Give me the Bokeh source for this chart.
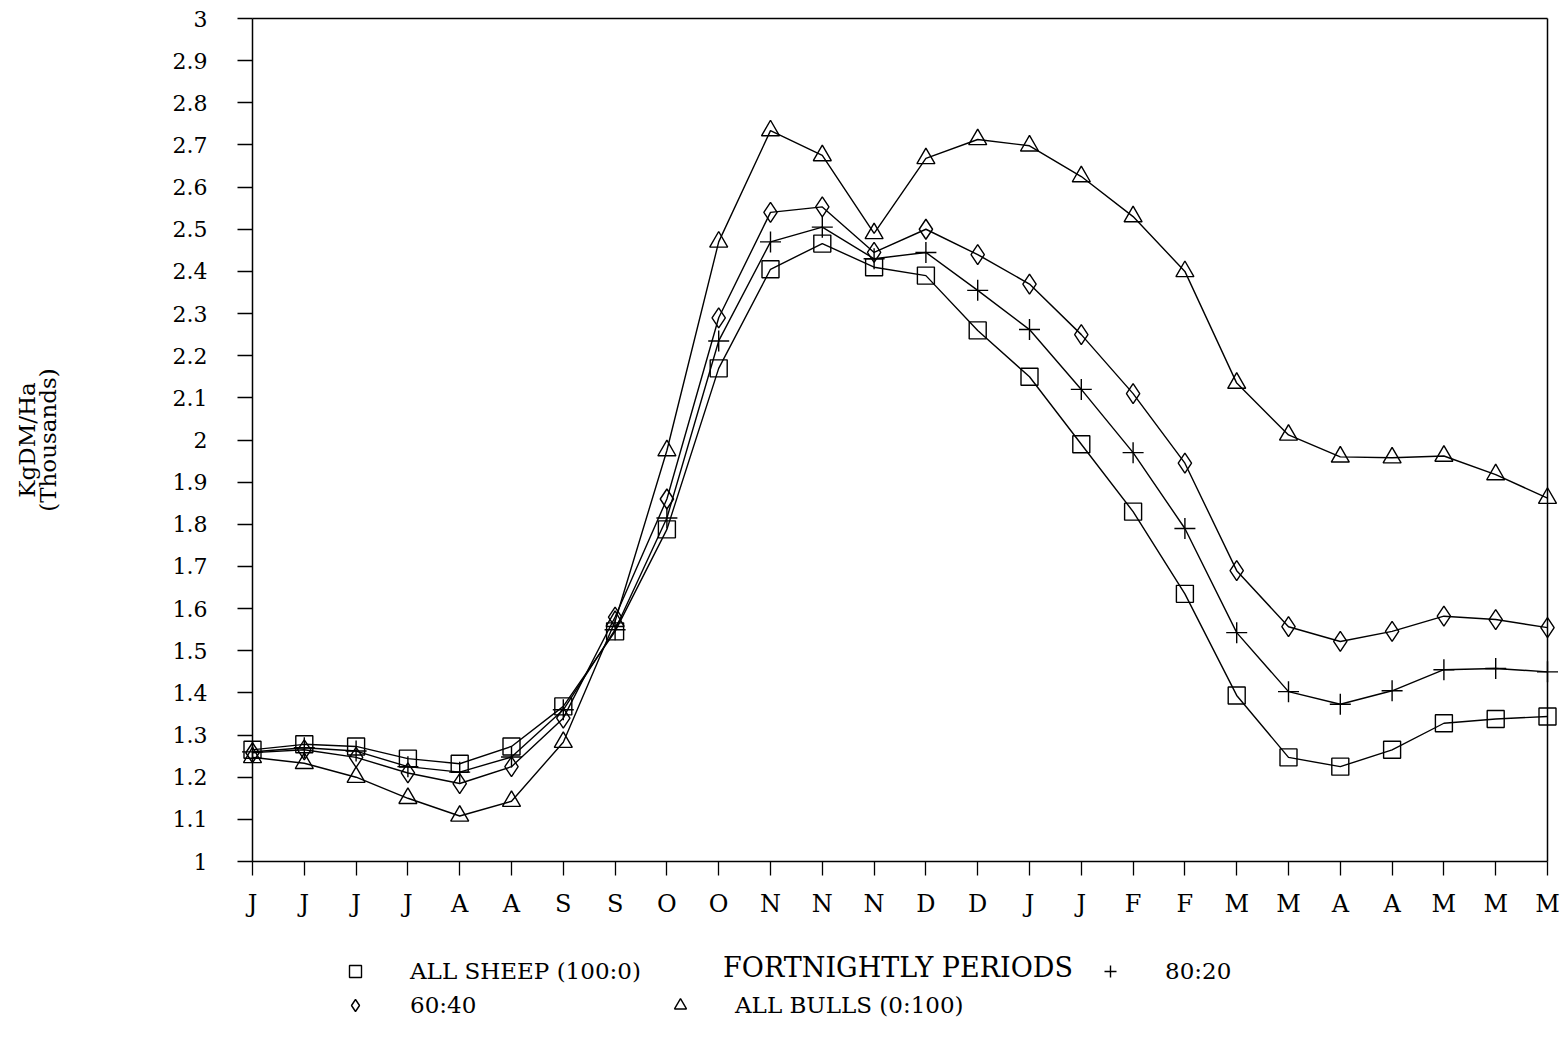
import math
from bokeh.plotting import figure
from bokeh.models import (Range1d, FixedTicker, LinearAxis, Legend, LegendItem, Label)
from bokeh.embed import file_html
from bokeh.resources import INLINE

periods = ["J", "J", "J", "J", "A", "A", "S", "S", "O", "O", "N", "N", "N",
           "D", "D", "J", "J", "F", "F", "M", "M", "A", "A", "M", "M", "M"]
idx = list(range(len(periods)))

all_sheep = [1.265, 1.278, 1.273, 1.244, 1.232, 1.273, 1.368, 1.546, 1.788, 2.17,
             2.405, 2.466, 2.41, 2.39, 2.26, 2.15, 1.99, 1.83, 1.635, 1.394,
             1.247, 1.225, 1.265, 1.328, 1.338, 1.344]
r80_20 = [1.26, 1.27, 1.262, 1.225, 1.212, 1.248, 1.36, 1.55, 1.815, 2.235,
          2.47, 2.505, 2.43, 2.445, 2.355, 2.262, 2.12, 1.97, 1.79, 1.543,
          1.403, 1.373, 1.405, 1.455, 1.458, 1.45]
r60_40 = [1.258, 1.265, 1.247, 1.21, 1.185, 1.225, 1.34, 1.58, 1.86, 2.29,
          2.54, 2.553, 2.445, 2.5, 2.44, 2.37, 2.25, 2.11, 1.945, 1.69,
          1.557, 1.522, 1.546, 1.582, 1.574, 1.555]
all_bulls = [1.247, 1.233, 1.2, 1.15, 1.108, 1.143, 1.283, 1.57, 1.975, 2.47,
             2.734, 2.675, 2.49, 2.668, 2.713, 2.698, 2.625, 2.53, 2.4, 2.135,
             2.012, 1.96, 1.958, 1.962, 1.918, 1.862]

y_ticks = [1.0, 1.1, 1.2, 1.3, 1.4, 1.5, 1.6, 1.7, 1.8, 1.9, 2.0,
           2.1, 2.2, 2.3, 2.4, 2.5, 2.6, 2.7, 2.8, 2.9, 3.0]
y_tick_labels = ["1", "1.1", "1.2", "1.3", "1.4", "1.5", "1.6", "1.7", "1.8", "1.9", "2",
                 "2.1", "2.2", "2.3", "2.4", "2.5", "2.6", "2.7", "2.8", "2.9", "3"]

legend_names = ["ALL SHEEP (100:0)", "80:20", "60:40", "ALL BULLS (0:100)"]
x_title = "FORTNIGHTLY PERIODS"
y_title = "KgDM/Ha\n(Thousands)"

FONT = "DejaVu Serif"

# ---- layout (pixels) -------------------------------------------------------
W, H = 1562, 1046                  # whole figure == plotting frame
PLOT_L, PLOT_R = 252, 1547         # where x = 0 and x = 25 sit
PLOT_T, PLOT_B = 18, 861           # where y = 3 and y = 1 sit
X0, X1 = 0, len(periods) - 1
Y0, Y1 = 1.0, 3.0
ux = (PLOT_R - PLOT_L) / (X1 - X0)
uy = (PLOT_B - PLOT_T) / (Y1 - Y0)
x_rng = Range1d(X0 - PLOT_L / ux, X1 + (W - PLOT_R) / ux)
y_rng = Range1d(Y0 - (H - PLOT_B) / uy, Y1 + PLOT_T / uy)

p = figure(frame_width=W, frame_height=H, output_backend="svg",
           toolbar_location=None, x_range=x_rng, y_range=y_rng,
           min_border=0)
p.background_fill_color = "white"
p.border_fill_color = "white"
p.outline_line_color = None
p.xgrid.visible = False
p.ygrid.visible = False

xa = p.xaxis[0]
xa.fixed_location = Y0
xa.bounds = (X0, X1)
xa.ticker = FixedTicker(ticks=idx)
xa.major_label_overrides = {i: lab for i, lab in enumerate(periods)}

ya = p.yaxis[0]
ya.fixed_location = X0
ya.bounds = (Y0, Y1)
ya.ticker = FixedTicker(ticks=y_ticks)
ya.major_label_overrides = {t: lab for t, lab in zip(y_ticks, y_tick_labels)}

for ax in (xa, ya):
    ax.axis_line_color = "black"
    ax.axis_line_width = 1.5
    ax.major_tick_line_color = "black"
    ax.major_tick_line_width = 1.3
    ax.major_tick_in = 0
    ax.minor_tick_line_color = None
    ax.major_label_text_font = FONT
    ax.major_label_text_color = "black"

xa.major_tick_out = 14
xa.major_label_text_font_size = "24px"
xa.major_label_standoff = 14

ya.major_tick_out = 15
ya.major_label_text_font_size = "22px"
ya.major_label_standoff = 30

# top and right frame lines
top = LinearAxis(ticker=FixedTicker(ticks=[]), bounds=(X0, X1), fixed_location=Y1,
                 axis_line_color="black", axis_line_width=1.5,
                 major_tick_line_color=None, minor_tick_line_color=None,
                 major_label_text_font_size="0px")
p.add_layout(top, "above")
right = LinearAxis(ticker=FixedTicker(ticks=[]), bounds=(Y0, Y1), fixed_location=X1,
                   axis_line_color="black", axis_line_width=1.5,
                   major_tick_line_color=None, minor_tick_line_color=None,
                   major_label_text_font_size="0px")
p.add_layout(right, "right")

# axis titles
p.add_layout(Label(x=(PLOT_L + PLOT_R) / 2 - 2, y=H - 967, x_units="screen", y_units="screen",
                   text=x_title, text_font=FONT, text_font_size="27px",
                   text_color="black", text_align="center", text_baseline="middle"))
p.add_layout(Label(x=37, y=H - (PLOT_T + PLOT_B) / 2, x_units="screen", y_units="screen",
                   text=y_title, angle=math.pi / 2, text_font=FONT,
                   text_font_size="23px", text_line_height=0.82,
                   text_color="black", text_align="center", text_baseline="middle"))

LW = 1.4
series = [
    (all_sheep, "square", 17),
    (r80_20, "cross", 21),
    (r60_40, "diamond", 20),
    (all_bulls, "triangle", 18),
]
marker_renderers = []
for vals, marker, size in series:
    p.line(idx, vals, line_color="black", line_width=LW)
    r = p.scatter(idx, vals, marker=marker, size=size, line_color="black",
                  line_width=1.4, fill_alpha=0)
    marker_renderers.append(r)

# legend: one entry per box, laid out as in the original (two rows)
legend_pos = [(340, 60), (1095, 60), (340, 26), (665, 26)]
for name, r, loc in zip(legend_names, marker_renderers, legend_pos):
    lg = Legend(items=[LegendItem(label=name, renderers=[r])], location=loc,
                glyph_width=30, glyph_height=30, label_standoff=40,
                padding=0, margin=0, spacing=0,
                border_line_color=None, background_fill_alpha=0,
                label_text_font=FONT, label_text_font_size="23px",
                label_text_color="black", label_height=30)
    p.add_layout(lg, "center")

open("out.html", "w").write(file_html(p, INLINE))
